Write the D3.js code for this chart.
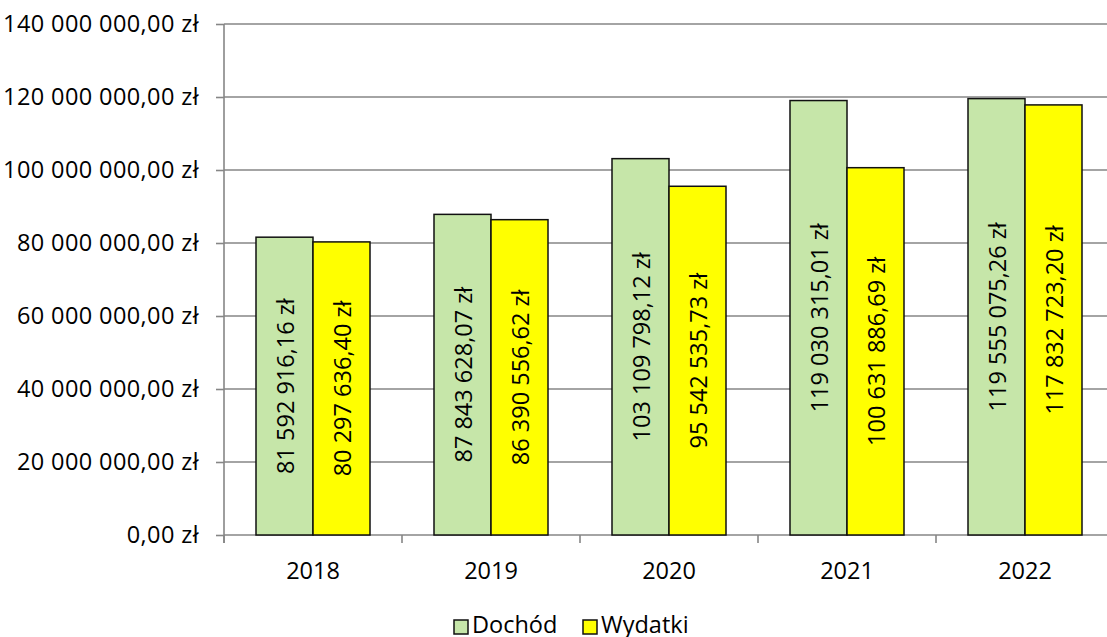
<!DOCTYPE html>
<html><head><meta charset="utf-8">
<script src="https://cdn.jsdelivr.net/npm/d3@7"></script>
<style>body{margin:0;background:#fff}svg{display:block}text{font-family:"Open Sans",sans-serif}</style>
</head><body>
<svg id="c" width="1107" height="637"></svg>
<script>
const categories = ["2018","2019","2020","2021","2022"];
const seriesNames = ["Dochód","Wydatki"];
const dochod = [81592916.16, 87843628.07, 103109798.12, 119030315.01, 119555075.26];
const wydatki = [80297636.40, 86390556.62, 95542535.73, 100631886.69, 117832723.20];
const yTicks = [0,20000000,40000000,60000000,80000000,100000000,120000000,140000000];
const colors = ["#C6E6A9","#FFFF00"];

(function(){
const svg = d3.select("#c");
const pl = 224, pr = 1114, pt = 24, pb = 535;
const fs = 23.5;
const x = d3.scaleBand().domain(categories).range([pl,pr]).paddingInner(0).paddingOuter(0);
const y = d3.scaleLinear().domain([0,140000000]).range([pb,pt]);

function fmt(v){
  const s = v.toFixed(2).split(".");
  const int = s[0].replace(/\B(?=(\d{3})+(?!\d))/g," ");
  return int + "," + s[1] + " zł";
}

svg.append("g").selectAll("line").data(yTicks).join("line")
  .attr("x1",pl).attr("x2",pr).attr("y1",d=>y(d)).attr("y2",d=>y(d))
  .attr("stroke","#868686").attr("stroke-width",1.6);

const ya = svg.append("g").attr("transform",`translate(${pl},0)`)
  .call(d3.axisLeft(y).tickValues(yTicks).tickSize(8).tickPadding(17).tickFormat(fmt));
ya.select(".domain").attr("stroke","#868686").attr("stroke-width",1.6).attr("d",`M0,${pt}V${pb+8}`);
ya.selectAll(".tick line").attr("stroke","#868686").attr("stroke-width",1.6);
ya.selectAll("text").attr("font-size",fs).attr("fill","#000").attr("font-family","'Open Sans',sans-serif")
  .attr("letter-spacing",0.4);

const xa = svg.append("g").attr("transform",`translate(0,${pb})`)
  .call(d3.axisBottom(x).tickSize(0).tickPadding(27));
xa.select(".domain").remove();
xa.selectAll("text").attr("font-size",fs).attr("fill","#000").attr("font-family","'Open Sans',sans-serif");
svg.append("g").selectAll("line").data(d3.range(categories.length+1)).join("line")
  .attr("x1",i=>pl+i*x.step()).attr("x2",i=>pl+i*x.step())
  .attr("y1",pb).attr("y2",pb+8).attr("stroke","#868686").attr("stroke-width",1.6);

const data = [];
categories.forEach((c,i)=>{
  data.push({c,s:"Dochód",v:dochod[i],col:colors[0]});
  data.push({c,s:"Wydatki",v:wydatki[i],col:colors[1]});
});
const bw = 57;
const off = s => (x.bandwidth()-2*bw)/2 + (s==="Dochód"?0:bw);
const g = svg.append("g");
g.selectAll("rect").data(data).join("rect")
  .attr("x",d=>x(d.c)+off(d.s)).attr("width",bw)
  .attr("y",d=>y(d.v)).attr("height",d=>pb-y(d.v))
  .attr("fill",d=>d.col).attr("stroke","#111").attr("stroke-width",1.5);

g.selectAll("text").data(data).join("text")
  .attr("transform",d=>`translate(${x(d.c)+off(d.s)+bw/2},${(y(d.v)+pb)/2}) rotate(-90)`)
  .attr("text-anchor","middle").attr("dominant-baseline","central")
  .attr("font-size",fs).attr("fill","#000").text(d=>fmt(d.v));

const leg = svg.append("g");
const lx = [454, 583];
seriesNames.forEach((n,i)=>{
  leg.append("rect").attr("x",lx[i]).attr("y",620).attr("width",14).attr("height",14)
    .attr("fill",colors[i]).attr("stroke","#111").attr("stroke-width",1.5);
  leg.append("text").attr("x",lx[i]+18).attr("y",633)
    .attr("font-size",fs).attr("fill","#000").text(n);
});
})();
</script>
</body></html>
